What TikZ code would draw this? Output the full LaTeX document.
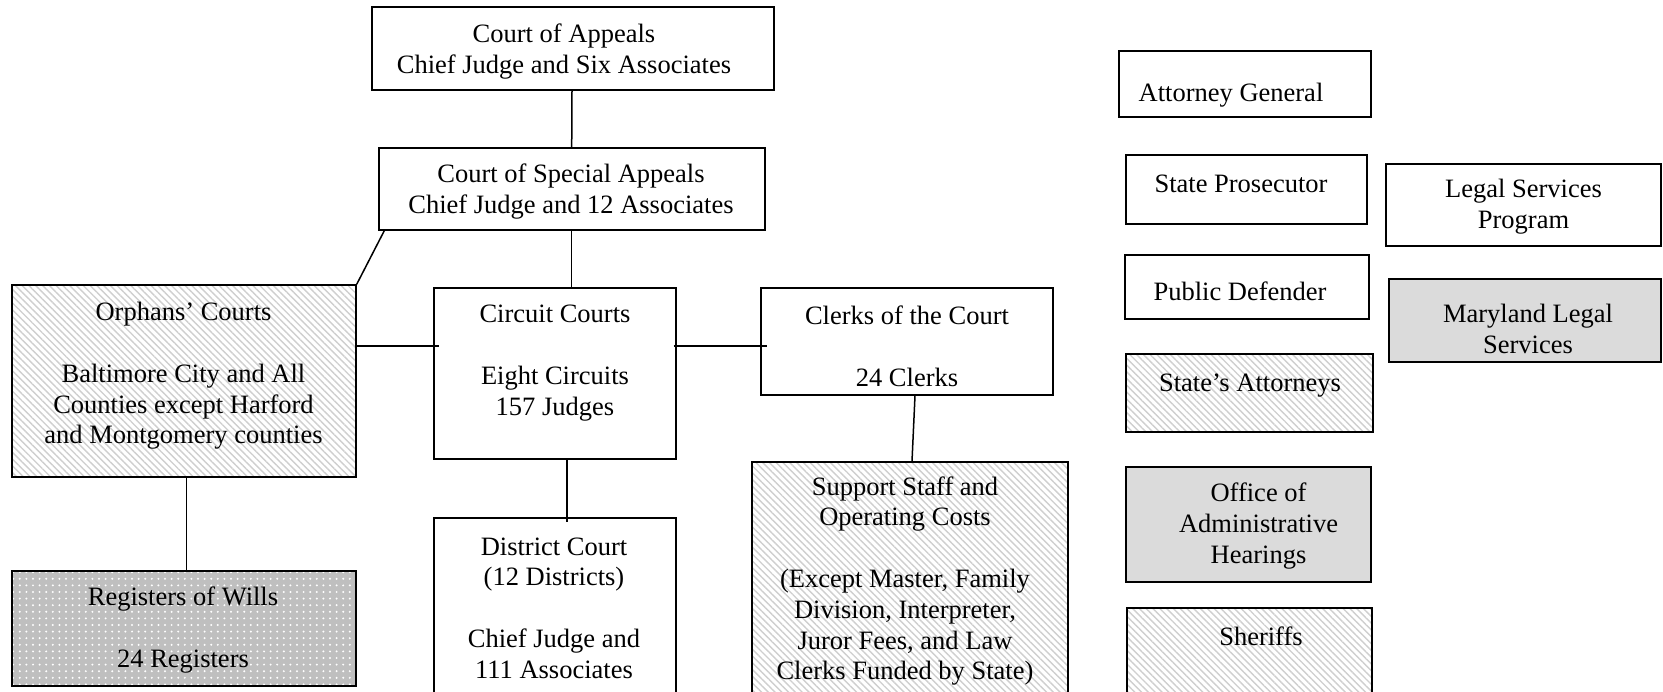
\documentclass[tikz,border=0pt]{standalone}
\usepackage{fontspec}
\setmainfont{Liberation Serif}
\usetikzlibrary{patterns.meta}
\begin{document}
\begin{tikzpicture}[x=1pt,y=-1pt,
  box/.style={draw, line width=1.4pt, rectangle, inner sep=0pt},
  hatchbox/.style={box, pattern={Lines[angle=-45,distance=4.8pt,line width=1.4pt]}, pattern color=black!19},
  dotbox/.style={box, preaction={fill=black!25}, pattern={Dots[radius=1.1pt,distance=6.6pt]}, pattern color=white},
  greybox/.style={box, fill=black!14},
  txt/.style={align=center, inner sep=0pt, font=\fontsize{26.5}{30.8}\selectfont},
  link/.style={line width=1.5pt}]
\fill[white] (0,0) rectangle (1663,691);
\useasboundingbox (0,0) rectangle (1663,691);

% boxes
\node[box, minimum width=402pt, minimum height=83pt] (coa) at (573,48.5) {};
\node[box, minimum width=386pt, minimum height=82pt] (csa) at (572,189) {};
\node[hatchbox, minimum width=344pt, minimum height=192pt] (orph) at (184,381) {};
\node[dotbox, minimum width=344pt, minimum height=115pt] (reg) at (184,628.5) {};
\node[box, minimum width=242pt, minimum height=171pt] (circ) at (555,373.5) {};
\node[box, minimum width=242pt, minimum height=202pt] (dist) at (555,619) {};
\node[box, minimum width=292pt, minimum height=107pt] (clerk) at (907,341.5) {};
\node[hatchbox, minimum width=316pt, minimum height=258pt] (supp) at (910,591) {};
\node[box, minimum width=252pt, minimum height=66pt] (ag) at (1245,84) {};
\node[box, minimum width=241pt, minimum height=69pt] (sp) at (1246.5,189.5) {};
\node[box, minimum width=275pt, minimum height=82pt] (lsp) at (1523.5,205) {};
\node[box, minimum width=244pt, minimum height=64pt] (pd) at (1247,287) {};
\node[greybox, minimum width=272pt, minimum height=83pt] (mls) at (1525,320.5) {};
\node[hatchbox, minimum width=247pt, minimum height=78pt] (sa) at (1249.5,393) {};
\node[greybox, minimum width=245pt, minimum height=115pt] (oah) at (1248.5,524.5) {};
\node[hatchbox, minimum width=245pt, minimum height=112pt] (sher) at (1249.5,664) {};

% texts
\node[txt] (tcoa) at (564,51.5) {Court of Appeals\\Chief Judge and Six Associates};
\node[txt] (tcsa) at (571,191.5) {Court of Special Appeals\\Chief Judge and 12 Associates};
\node[txt] (torph) at (183.5,376) {Orphans’ Courts\\[30.8pt]Baltimore City and All\\Counties except Harford\\and Montgomery counties};
\node[txt] (treg) at (183,630) {Registers of Wills\\[30.8pt]24 Registers};
\node[txt] (tcirc) at (555,363) {Circuit Courts\\[30.8pt]Eight Circuits\\157 Judges};
\node[txt] (tdist) at (554,608) {District Court\\(12 Districts)\\[30.8pt]Chief Judge and\\111 Associates};
\node[txt] (tclerk) at (907,346) {Clerks of the Court\\[30.8pt]24 Clerks};
\node[txt] (tsupp) at (905,581) {Support Staff and\\Operating Costs\\[30.8pt](Except Master, Family\\Division, Interpreter,\\Juror Fees, and Law\\Clerks Funded by State)};
\node[txt] (tag) at (1231,95) {Attorney General};
\node[txt] (tsp) at (1241,183.7) {State Prosecutor};
\node[txt] (tlsp) at (1523.5,207) {Legal Services\\Program};
\node[txt] (tpd) at (1240,291) {Public Defender};
\node[txt] (tmls) at (1528,329) {Maryland Legal\\Services};
\node[txt] (tsa) at (1250,386) {State’s Attorneys};
\node[txt] (toah) at (1258.5,526) {Office of\\Administrative\\Hearings};
\node[txt] (tsher) at (1261,636) {Sheriffs};

% connectors
\coordinate (hl) at (0,346);
\draw[link] ([xshift=-1pt]coa.south) -- ([xshift=-0.3pt]csa.north);
\draw[link] ([xshift=-0.3pt]csa.south) -- ([xshift=-0.3pt]csa.south |- circ.north);
\draw[link] ([xshift=6pt]csa.south west) -- (orph.north east);
\draw[link] (orph.east |- hl) -- ([xshift=6pt]circ.west |- hl);
\draw[link] ([xshift=-3pt]circ.east |- hl) -- ([xshift=7pt]clerk.west |- hl);
\draw[link] ([xshift=12pt]circ.south) -- ([xshift=12pt,yshift=-5pt]dist.north);
\draw[link] ([xshift=8pt]clerk.south) -- ([xshift=2pt]supp.north);
\draw[link] ([xshift=2.7pt]orph.south) -- ([xshift=2.7pt]reg.north);
\end{tikzpicture}
\end{document}
